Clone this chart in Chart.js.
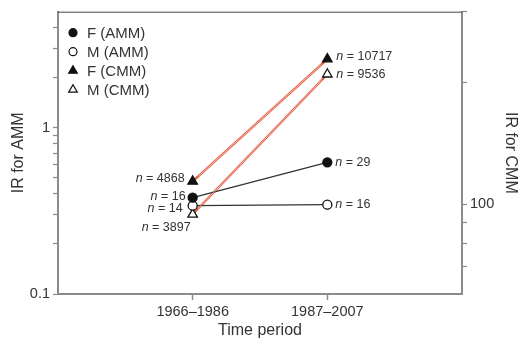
<!DOCTYPE html>
<html>
<head>
<meta charset="utf-8">
<script src="https://cdn.jsdelivr.net/npm/chart.js@4"></script>
<style>
  html, body { margin: 0; padding: 0; background: #fff; }
  #wrap { width: 520px; height: 345px; }
</style>
</head>
<body>
<div id="wrap"><canvas id="irChart"></canvas></div>
<script>
// periods on the x axis
const periods = ['1966–1986', '1987–2007'];
const seriesNames = ['F (AMM)', 'M (AMM)', 'F (CMM)', 'M (CMM)'];

// incidence ratios (AMM on left axis, CMM on right axis)
const irFemaleAMM = [0.38, 0.62];
const irMaleAMM = [0.34, 0.345];
const irFemaleCMM = [114, 229];
const irMaleCMM = [94.5, 210];

// number of cases per point
const nFemaleAMM = [16, 29];
const nMaleAMM = [14, 16];
const nFemaleCMM = [4868, 10717];
const nMaleCMM = [3897, 9536];

// tick positions and the ones that get a label
const ammTicks = [0.1, 0.2, 0.3, 0.4, 0.5, 0.6, 0.7, 0.8, 0.9, 1, 2, 3, 4];
const ammTickLabels = [0.1, 1];
const cmmTicks = [70, 80, 90, 100, 200, 300];
const cmmTickLabels = [100];

const FONT = 'Liberation Sans, Arial, Helvetica, sans-serif';
const AXIS_GREY = '#8a8a8a';
const RED = '#e4583d';

const toPoints = vals => vals.map((v, i) => ({ x: i + 1, y: v }));
const isOneOf = (v, list) => list.some(t => Math.abs(t - v) < 1e-9);

// label placement next to each point: [left point, right point]
const labelPlacement = [
  [{ dx: -7, dy: -1, align: 'right' }, { dx: 8, dy: 0, align: 'left' }],
  [{ dx: -10, dy: 3, align: 'right' }, { dx: 8, dy: 0, align: 'left' }],
  [{ dx: -8, dy: -3, align: 'right' }, { dx: 9, dy: -3, align: 'left' }],
  [{ dx: -2, dy: 13, align: 'right' }, { dx: 9, dy: 0, align: 'left' }]
];
const nLabels = [nFemaleAMM, nMaleAMM, nFemaleCMM, nMaleCMM];

const markerStyles = [
  { pointStyle: 'circle', radius: 4.5, fill: '#111', stroke: '#111' },
  { pointStyle: 'circle', radius: 4.5, fill: '#fff', stroke: '#111' },
  { pointStyle: 'triangle', radius: 5.5, fill: '#111', stroke: '#111' },
  { pointStyle: 'triangle', radius: 5.5, fill: '#fff', stroke: '#111' }
];

function makeDataset(i, values, axis, lineColor, hollowLine) {
  const m = markerStyles[i];
  return {
    label: seriesNames[i],
    data: toPoints(values),
    yAxisID: axis,
    borderColor: lineColor,
    borderWidth: hollowLine ? 2.2 : 1.3,
    pointStyle: m.pointStyle,
    pointRadius: m.radius,
    pointBackgroundColor: m.fill,
    pointBorderColor: m.stroke,
    pointBorderWidth: 1.3,
    hollowLine: hollowLine
  };
}

function fixedTicks(values) {
  return scale => { scale.ticks = values.map(v => ({ value: v })); };
}

// top frame line
const frameTop = {
  id: 'frameTop',
  afterDraw(chart) {
    const { ctx, chartArea } = chart;
    ctx.save();
    ctx.strokeStyle = '#444';
    ctx.lineWidth = 1;
    ctx.beginPath();
    ctx.moveTo(chartArea.left, chartArea.top + 0.5);
    ctx.lineTo(chartArea.right, chartArea.top + 0.5);
    ctx.stroke();
    ctx.restore();
  }
};

// light core inside the red lines
const hollowCore = {
  id: 'hollowCore',
  afterDatasetsDraw(chart) {
    const ctx = chart.ctx;
    chart.data.datasets.forEach((ds, i) => {
      if (!ds.hollowLine) return;
      const pts = chart.getDatasetMeta(i).data;
      ctx.save();
      ctx.strokeStyle = '#f9d6cc';
      ctx.lineWidth = 0.8;
      for (let j = 0; j < pts.length - 1; j++) {
        const a = pts[j], b = pts[j + 1];
        const len = Math.hypot(b.x - a.x, b.y - a.y);
        const ux = (b.x - a.x) / len, uy = (b.y - a.y) / len;
        const cut = 8;
        ctx.beginPath();
        ctx.moveTo(a.x + ux * cut, a.y + uy * cut);
        ctx.lineTo(b.x - ux * cut, b.y - uy * cut);
        ctx.stroke();
      }
      ctx.restore();
    });
  }
};

// "n = ..." annotations
const countLabels = {
  id: 'countLabels',
  afterDatasetsDraw(chart) {
    const ctx = chart.ctx;
    ctx.save();
    ctx.fillStyle = '#333';
    ctx.textBaseline = 'middle';
    const italic = 'italic 12.5px ' + FONT;
    const normal = '12.5px ' + FONT;
    nLabels.forEach((counts, i) => {
      const pts = chart.getDatasetMeta(i).data;
      counts.forEach((n, j) => {
        const p = labelPlacement[i][j];
        const rest = ' = ' + n;
        ctx.font = italic;
        const wN = ctx.measureText('n').width;
        ctx.font = normal;
        const wR = ctx.measureText(rest).width;
        let x = pts[j].x + p.dx;
        if (p.align === 'right') x -= wN + wR;
        const y = pts[j].y + p.dy;
        ctx.textAlign = 'left';
        ctx.font = italic;
        ctx.fillText('n', x, y);
        ctx.font = normal;
        ctx.fillText(rest, x + wN, y);
      });
    });
    ctx.restore();
  }
};

// legend box inside the plot
const innerLegend = {
  id: 'innerLegend',
  afterDraw(chart) {
    const { ctx, chartArea } = chart;
    ctx.save();
    ctx.textBaseline = 'middle';
    ctx.textAlign = 'left';
    ctx.font = '15px ' + FONT;
    seriesNames.forEach((name, i) => {
      const m = markerStyles[i];
      const y = chartArea.top + 21 + i * 19;
      const x = chartArea.left + 15;
      ctx.fillStyle = m.fill;
      ctx.strokeStyle = m.stroke;
      ctx.lineWidth = 1.2;
      Chart.helpers.drawPoint(ctx, { pointStyle: m.pointStyle, radius: m.radius - 0.5, borderWidth: 1.2, rotation: 0 }, x, y);
      ctx.fillStyle = '#333';
      ctx.fillText(name, x + 14, y + 1);
    });
    ctx.restore();
  }
};

new Chart(document.getElementById('irChart'), {
  type: 'line',
  data: {
    datasets: [
      makeDataset(0, irFemaleAMM, 'yAMM', '#333', false),
      makeDataset(1, irMaleAMM, 'yAMM', '#333', false),
      makeDataset(2, irFemaleCMM, 'yCMM', RED, true),
      makeDataset(3, irMaleCMM, 'yCMM', RED, true)
    ]
  },
  plugins: [frameTop, hollowCore, countLabels, innerLegend],
  options: {
    responsive: true,
    maintainAspectRatio: false,
    animation: false,
    devicePixelRatio: 1,
    layout: { padding: { top: 11, left: 0, right: 0, bottom: 0 } },
    plugins: {
      legend: { display: false },
      tooltip: { enabled: false }
    },
    scales: {
      x: {
        type: 'linear',
        min: 0,
        max: 3,
        afterFit: s => { s.height = 51; },
        ticks: {
          stepSize: 1,
          autoSkip: false,
          maxRotation: 0,
          padding: 3,
          color: '#333',
          font: { family: FONT, size: 14.5 },
          callback: v => periods[v - 1] || ''
        },
        grid: {
          drawOnChartArea: false,
          tickLength: 6,
          tickWidth: 1.5,
          tickColor: c => (c.tick && c.tick.value >= 1 && c.tick.value <= 2) ? AXIS_GREY : 'rgba(0,0,0,0)'
        },
        border: { color: AXIS_GREY, width: 2 },
        title: {
          display: true,
          text: 'Time period',
          color: '#333',
          font: { family: FONT, size: 16 },
          padding: { top: 0, bottom: 5 }
        }
      },
      yAMM: {
        type: 'logarithmic',
        position: 'left',
        min: 0.1,
        max: 5,
        afterFit: s => { s.width = 58; },
        afterBuildTicks: fixedTicks(ammTicks),
        ticks: {
          autoSkip: false,
          padding: 3,
          color: '#333',
          font: { family: FONT, size: 14.5 },
          callback: v => isOneOf(v, ammTickLabels) ? String(v) : ''
        },
        grid: { drawOnChartArea: false, tickLength: 5, tickWidth: 1.2, tickColor: AXIS_GREY },
        border: { color: AXIS_GREY, width: 2 },
        title: {
          display: true,
          text: 'IR for AMM',
          color: '#333',
          font: { family: FONT, size: 16 },
          padding: { top: 9, bottom: 0 }
        }
      },
      yCMM: {
        type: 'logarithmic',
        position: 'right',
        min: 60,
        max: 300,
        afterFit: s => { s.width = 58; },
        afterBuildTicks: fixedTicks(cmmTicks),
        ticks: {
          autoSkip: false,
          padding: 3,
          color: '#333',
          font: { family: FONT, size: 14.5 },
          callback: v => isOneOf(v, cmmTickLabels) ? String(v) : ''
        },
        grid: { drawOnChartArea: false, tickLength: 5, tickWidth: 1.2, tickColor: AXIS_GREY },
        border: { color: AXIS_GREY, width: 2 },
        title: {
          display: true,
          text: 'IR for CMM',
          color: '#333',
          font: { family: FONT, size: 16 },
          padding: { top: 0, bottom: 0 }
        }
      }
    }
  }
});
</script>
</body>
</html>
